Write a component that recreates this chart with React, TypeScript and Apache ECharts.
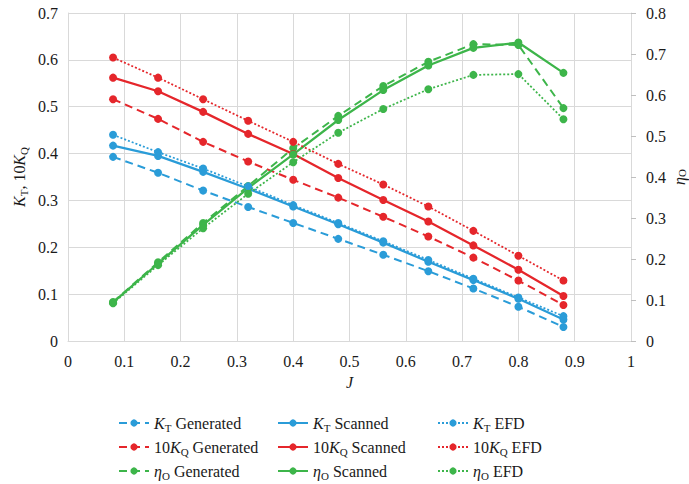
import React, { useEffect, useRef } from "react";
import * as echarts from "echarts";

const J = [0.08, 0.16, 0.24, 0.32, 0.4, 0.48, 0.56, 0.64, 0.72, 0.8, 0.88];
const ktGenerated = [0.393, 0.359, 0.321, 0.286, 0.252, 0.218, 0.184, 0.149, 0.112, 0.073, 0.030];
const ktScanned = [0.417, 0.395, 0.361, 0.325, 0.287, 0.249, 0.210, 0.169, 0.130, 0.090, 0.046];
const ktEFD = [0.440, 0.403, 0.368, 0.330, 0.290, 0.252, 0.213, 0.173, 0.133, 0.093, 0.053];
const kq10Generated = [0.516, 0.474, 0.425, 0.383, 0.344, 0.306, 0.265, 0.223, 0.178, 0.129, 0.077];
const kq10Scanned = [0.562, 0.533, 0.489, 0.442, 0.399, 0.348, 0.301, 0.255, 0.204, 0.152, 0.096];
const kq10EFD = [0.605, 0.562, 0.516, 0.470, 0.425, 0.378, 0.334, 0.287, 0.235, 0.182, 0.129];
const etaGenerated = [0.095, 0.192, 0.288, 0.378, 0.470, 0.549, 0.622, 0.681, 0.724, 0.722, 0.568];
const etaScanned = [0.094, 0.189, 0.283, 0.373, 0.455, 0.539, 0.612, 0.672, 0.715, 0.728, 0.654];
const etaEFD = [0.092, 0.185, 0.275, 0.359, 0.436, 0.508, 0.566, 0.614, 0.649, 0.651, 0.541];

const BLUE = "#2A9CD8";
const RED = "#E5262B";
const GREEN = "#3DB54A";
const FONT = "'Liberation Serif', 'Times New Roman', serif";
const INK = "#1a1a1a";

const pair = (ys: number[]) => J.map((x, i) => [x, ys[i]]);

const richStyles = {
  n: { fontFamily: FONT, fontSize: 16, color: INK, lineHeight: 20, verticalAlign: "middle" },
  i: { fontFamily: FONT, fontSize: 16, fontStyle: "italic", color: INK, lineHeight: 20, verticalAlign: "middle" },
  s: { fontFamily: FONT, fontSize: 11, color: INK, lineHeight: 13, verticalAlign: "bottom" },
};

const richTight = {
  i: { fontFamily: FONT, fontSize: 16, fontStyle: "italic", color: INK, lineHeight: 16, verticalAlign: "middle" },
  s: { fontFamily: FONT, fontSize: 11, color: INK, lineHeight: 11, verticalAlign: "bottom" },
};

const labelRich: Record<string, string> = {
  "KT Generated": "{i|K}{s|T}{n| Generated}",
  "10KQ Generated": "{n|10}{i|K}{s|Q}{n| Generated}",
  "etaO Generated": "{i|η}{s|O}{n| Generated}",
  "KT Scanned": "{i|K}{s|T}{n| Scanned}",
  "10KQ Scanned": "{n|10}{i|K}{s|Q}{n| Scanned}",
  "etaO Scanned": "{i|η}{s|O}{n| Scanned}",
  "KT EFD": "{i|K}{s|T}{n| EFD}",
  "10KQ EFD": "{n|10}{i|K}{s|Q}{n| EFD}",
  "etaO EFD": "{i|η}{s|O}{n| EFD}",
};

const DASH = [8, 5];
const DOT = [2, 2];

const seriesDefs = [
  { name: "KT Generated", data: ktGenerated, color: BLUE, type: DASH, width: 2, axis: 0 },
  { name: "10KQ Generated", data: kq10Generated, color: RED, type: DASH, width: 2, axis: 0 },
  { name: "etaO Generated", data: etaGenerated, color: GREEN, type: DASH, width: 2, axis: 1 },
  { name: "KT Scanned", data: ktScanned, color: BLUE, type: "solid", width: 2.25, axis: 0 },
  { name: "10KQ Scanned", data: kq10Scanned, color: RED, type: "solid", width: 2.25, axis: 0 },
  { name: "etaO Scanned", data: etaScanned, color: GREEN, type: "solid", width: 2.25, axis: 1 },
  { name: "KT EFD", data: ktEFD, color: BLUE, type: DOT, width: 1.75, axis: 0 },
  { name: "10KQ EFD", data: kq10EFD, color: RED, type: DOT, width: 1.75, axis: 0 },
  { name: "etaO EFD", data: etaEFD, color: GREEN, type: DOT, width: 1.75, axis: 1 },
];

const legendCols = [118, 277, 437];
const legendRows = [415, 439, 463];

export default function App() {
  const ref = useRef<HTMLDivElement>(null);
  useEffect(() => {
    if (!ref.current) return;
    const chart = echarts.init(ref.current, undefined, { renderer: "svg" });
    const legends = seriesDefs.map((s, k) => ({
      data: [s.name],
      left: legendCols[Math.floor(k / 3)],
      top: legendRows[k % 3],
      padding: 0,
      itemWidth: 30,
      itemHeight: 9,
      selectedMode: false,
      formatter: (name: string) => labelRich[name],
      textStyle: { fontFamily: FONT, fontSize: 16, color: INK, rich: richStyles },
    }));
    chart.setOption({
      animation: false,
      backgroundColor: "#fff",
      textStyle: { fontFamily: FONT },
      grid: { left: 68, right: 58, top: 13, bottom: 143, containLabel: false, outerBoundsMode: "none" },
      legend: legends,
      xAxis: {
        type: "value",
        min: 0,
        max: 1,
        interval: 0.1,
        name: "J",
        nameLocation: "middle",
        nameGap: 33,
        nameMoveOverlap: false,
        nameTextStyle: { fontFamily: FONT, fontSize: 16, fontStyle: "italic", color: INK },
        axisLine: { show: true, lineStyle: { color: "#d9d9d9", width: 1 } },
        axisTick: { show: false },
        axisLabel: { fontFamily: FONT, fontSize: 16, color: INK, margin: 12 },
        splitLine: { show: true, lineStyle: { color: "#d9d9d9", width: 1 } },
      },
      yAxis: [
        {
          type: "value",
          min: 0,
          max: 0.7,
          interval: 0.1,
          position: "left",
          name: "{i|K}{s|T}{n|, 10}{i|K}{s|Q}",
          nameLocation: "middle",
          nameRotate: 90,
          nameGap: 39,
          nameMoveOverlap: false,
          nameTextStyle: { rich: richStyles },
          axisLine: { show: true, lineStyle: { color: "#d9d9d9", width: 1 } },
          axisTick: { show: false },
          axisLabel: { fontFamily: FONT, fontSize: 16, color: INK, margin: 10 },
          splitLine: { show: true, lineStyle: { color: "#d9d9d9", width: 1 } },
        },
        {
          type: "value",
          min: 0,
          max: 0.8,
          interval: 0.1,
          position: "right",
          name: "{i|η}{s|O}",
          nameLocation: "middle",
          nameRotate: 90,
          nameGap: 40,
          nameMoveOverlap: false,
          nameTextStyle: { rich: richTight },
          axisLine: { show: true, lineStyle: { color: "#d9d9d9", width: 1 } },
          axisTick: { show: true, inside: false, length: 5, lineStyle: { color: "#bfbfbf" } },
          axisLabel: { fontFamily: FONT, fontSize: 16, color: INK, margin: 15 },
          splitLine: { show: false },
        },
      ],
      series: seriesDefs.map((s) => ({
        name: s.name,
        type: "line",
        yAxisIndex: s.axis,
        data: pair(s.data),
        symbol: "circle",
        symbolSize: 8,
        color: s.color,
        itemStyle: { color: s.color },
        lineStyle: { color: s.color, width: s.width, type: s.type },
      })),
    });
    return () => chart.dispose();
  }, []);
  return <div ref={ref} style={{ width: 689, height: 484, position: "absolute", left: 0, top: 0 }} />;
}
